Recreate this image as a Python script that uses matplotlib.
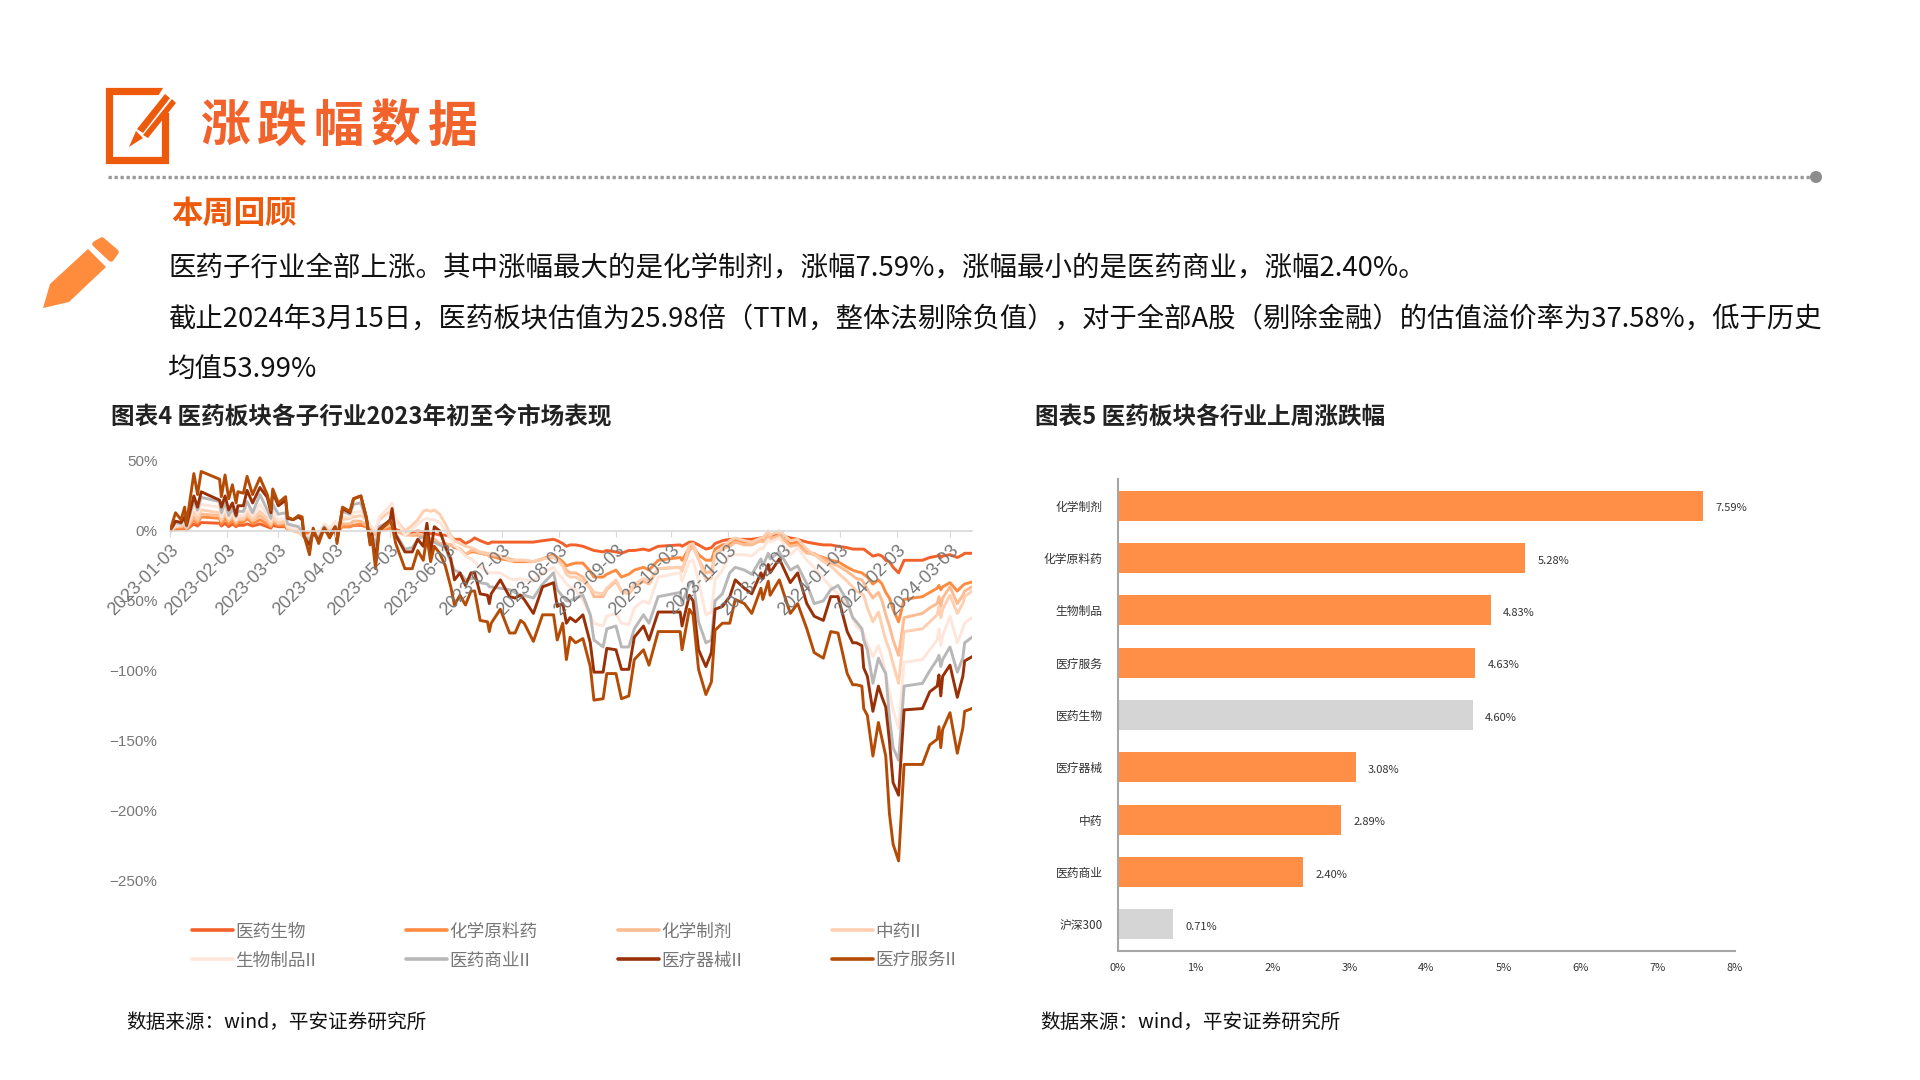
import pandas as pd
from matplotlib import pyplot as plt
from matplotlib.patches import Polygon, Circle, Rectangle
from matplotlib.ticker import FuncFormatter

plt.rcParams['font.family'] = ['Noto Sans CJK SC', 'DejaVu Sans']

title_chars = '涨跌幅数据'
review_title = '本周回顾'
body_lines = ['医药子行业全部上涨。其中涨幅最大的是化学制剂，涨幅7.59%，涨幅最小的是医药商业，涨幅2.40%。',
              '截止2024年3月15日，医药板块估值为25.98倍（TTM，整体法剔除负值），对于全部A股（剔除金融）的估值溢价率为37.58%，低于历史',
              '均值53.99%']
chart4_title = '图表4 医药板块各子行业2023年初至今市场表现'
chart5_title = '图表5 医药板块各行业上周涨跌幅'
source_text = '数据来源：wind，平安证券研究所'

# left chart
dates = ['2023-01-03', '2023-01-06', '2023-01-09', '2023-01-11', '2023-01-12', '2023-01-16', '2023-01-18', '2023-01-20', '2023-01-30', '2023-01-31',
         '2023-02-02', '2023-02-04', '2023-02-06', '2023-02-08', '2023-02-09', '2023-02-12', '2023-02-14', '2023-02-17', '2023-02-21', '2023-02-25',
         '2023-02-27', '2023-02-28', '2023-03-03', '2023-03-07', '2023-03-08', '2023-03-11', '2023-03-14', '2023-03-16', '2023-03-17', '2023-03-20',
         '2023-03-22', '2023-03-25', '2023-03-28', '2023-03-31', '2023-04-03', '2023-04-04', '2023-04-07', '2023-04-11', '2023-04-13', '2023-04-17',
         '2023-04-20', '2023-04-22', '2023-04-23', '2023-04-25', '2023-04-27', '2023-05-03', '2023-05-04', '2023-05-06', '2023-05-11', '2023-05-15',
         '2023-05-18', '2023-05-21', '2023-05-23', '2023-05-25', '2023-05-27', '2023-05-30', '2023-06-02', '2023-06-05', '2023-06-07', '2023-06-10',
         '2023-06-13', '2023-06-16', '2023-06-18', '2023-06-21', '2023-06-25', '2023-06-26', '2023-06-27', '2023-07-02', '2023-07-07', '2023-07-10',
         '2023-07-13', '2023-07-15', '2023-07-20', '2023-07-25', '2023-07-31', '2023-08-02', '2023-08-05', '2023-08-07', '2023-08-09', '2023-08-12',
         '2023-08-16', '2023-08-20', '2023-08-22', '2023-08-27', '2023-08-29', '2023-09-03', '2023-09-06', '2023-09-10', '2023-09-13', '2023-09-18',
         '2023-09-21', '2023-09-26', '2023-10-08', '2023-10-09', '2023-10-13', '2023-10-15', '2023-10-18', '2023-10-22', '2023-10-25', '2023-10-27',
         '2023-10-31', '2023-11-04', '2023-11-07', '2023-11-12', '2023-11-16', '2023-11-21', '2023-11-22', '2023-11-25', '2023-11-26', '2023-12-01',
         '2023-12-07', '2023-12-11', '2023-12-16', '2023-12-20', '2023-12-25', '2023-12-29', '2024-01-02', '2024-01-07', '2024-01-10', '2024-01-12',
         '2024-01-15', '2024-01-16', '2024-01-18', '2024-01-21', '2024-01-24', '2024-01-26', '2024-01-28', '2024-01-30', '2024-02-01', '2024-02-04',
         '2024-02-07', '2024-02-17', '2024-02-21', '2024-02-25', '2024-02-26', '2024-02-27', '2024-02-28', '2024-03-03', '2024-03-07', '2024-03-10',
         '2024-03-11', '2024-03-15']

yiyao = [0, 1, 1.5, 2, 1, 5, 3.5, 6, 5.5, 3.5,
         5.5, 3, 5, 3, 4, 4, 5, 3.5, 5, 3,
         2, 4, 3, 3, 1, 1, .5, -1, -1, -2,
         -1, -1, 0, 0, 1, 0, 3, 3, 4, 4,
         3, 1, 1, 0, 1, 2, 2, 1, -1, -1,
         0, -1, -1, -2, -2, -3, -3, -4, -6, -6,
         -9, -7, -5, -7, -9, -9, -8, -8, -8, -8,
         -8, -8, -8, -7, -6, -7, -9, -11, -10, -10,
         -11, -13, -14, -15, -14, -15, -16, -14, -14, -13,
         -14, -11, -10, -11, -8, -8, -10, -13, -12, -9,
         -7, -6, -6, -6, -6, -5, -5, -3, -3, -3,
         -5, -6, -8, -9, -10, -10, -11, -12, -13, -13,
         -13, -13, -15, -18, -17, -18, -21, -22, -26, -30,
         -21, -21, -19, -18, -17, -19, -18, -17, -19, -17, -16, -16]
yuanliao = [0, 2, 2, 3, 1, 8, 5.5, 10, 9, 5,
            9, 5, 8, 4, 6, 6, 9, 5, 8, 5,
            3, 6, 4, 4, 1, 1, 0, -2, -2, -3,
            -1, -3, 0, -1, 1, -1, 3, 3, 4, 5,
            3, -1, 0, -2, 0, 2, 2, 0, -2, -3,
            -3, -4, -4, -6, -7, -10, -10, -10, -12, -13,
            -17, -15, -15, -16, -17, -18, -18, -20, -21, -22,
            -22, -22, -22, -20, -17, -19, -22, -25, -24, -23,
            -23, -29, -33, -33, -31, -28, -33, -31, -28, -26,
            -28, -21, -19, -21, -12, -11, -17, -21, -21, -13,
            -10, -9, -8, -8, -8, -7, -7, -4, -6, -4,
            -9, -8, -15, -17, -19, -21, -22, -26, -28, -29,
            -30, -31, -33, -38, -35, -38, -44, -48, -56, -65,
            -49, -47, -44, -41, -39, -42, -40, -37, -43, -39, -38, -36.5]
zhiji = [0, 3, 3, 4, 2, 10, 7, 12, 11, 7,
         12, 7, 10, 6, 8, 8, 11, 7, 11, 7,
         4, 8, 5, 6, 2, 0, -1, -3, -4, -4,
         -1, -3, 1, 0, 2, 0, 5, 5, 7, 7,
         4, -1, 0, -3, 1, 4, 4, 0, -3, -3,
         -2, -4, -3, -6, -6, -9, -9, -10, -11, -13,
         -17, -14, -14, -16, -17, -18, -17, -18, -20, -21,
         -21, -21, -22, -20, -18, -20, -24, -28, -30, -30,
         -33, -41, -47, -47, -42, -36, -43, -45, -40, -36,
         -38, -27, -26, -28, -14, -11, -20, -30, -29, -17,
         -13, -11, -8, -10, -10, -7, -8, -3, -6, -3,
         -11, -10, -16, -16, -20, -23, -25, -29, -32, -34,
         -35, -37, -42, -48, -44, -50, -60, -68, -78, -89,
         -62, -59, -55, -52, -47, -54, -48, -40, -52, -46, -43, -40]
zhongyao = [0, 3, 4, 5, 2, 14, 9, 15, 13, 8,
            14, 8, 12, 7, 9, 9, 13, 8, 14, 9,
            5, 10, 6, 7, 2, 1, 0, -3, -4, -3,
            0, -2, 4, 2, 6, 3, 8, 9, 10, 11,
            8, 3, 2, 0, 8, 14, 13, 8, 0, 4,
            8, 14, 15, 14, 15, 12, 5, -3, -7, -9,
            -11, -12, -13, -15, -16, -16, -16, -18, -21, -21,
            -21, -21, -22, -20, -19, -21, -25, -31, -33, -33,
            -36, -40, -44, -45, -41, -35, -43, -44, -38, -34,
            -36, -27, -26, -29, -10, -9, -20, -35, -34, -16,
            -12, -7, -5, -7, -8, -5, -5, 0, -3, 0,
            -7, -6, -13, -17, -22, -25, -30, -36, -40, -43,
            -45, -46, -55, -65, -58, -68, -78, -85, -95, -109,
            -72, -70, -65, -60, -54, -62, -56, -46, -59, -52, -47, -43]
shengwu = [0, 4, 5, 7, 3, 17, 12, 19, 17, 10,
           16, 9, 14, 8, 11, 11, 16, 11, 19, 12,
           7, 14, 8, 9, 3, 2, 1, -2, -4, -4,
           0, -3, 5, 2, 7, 3, 10, 10, 13, 14,
           9, 4, 3, 0, 10, 18, 20, 8, -3, 1,
           5, 8, 9, 8, 8, 6, 0, -5, -10, -14,
           -18, -20, -22, -26, -29, -30, -30, -30, -34, -35,
           -34, -35, -36, -30, -26, -30, -34, -38, -40, -42,
           -50, -60, -66, -68, -61, -59, -66, -67, -55, -50,
           -52, -33, -30, -36, -22, -21, -36, -60, -58, -35,
           -28, -17, -17, -17, -18, -12, -13, -6, -8, -5,
           -17, -12, -21, -26, -34, -40, -45, -53, -62, -68,
           -72, -73, -81, -90, -82, -90, -103, -115, -128, -141,
           -94, -92, -85, -78, -70, -82, -75, -61, -80, -70, -66, -62]
shangye = [0, 6, 5, 9, 3, 22, 15, 24, 21, 13,
           21, 11, 16, 10, 14, 14, 21, 13, 26, 15,
           9, 19, 12, 13, 5, 4, 3, -1, -4, -6,
           -1, -5, 3, -2, 3, -4, 14, 12, 19, 20,
           8, -5, -2, -10, 3, 7, 9, -2, -13, -12,
           -6, -4, -2, -7, -8, -10, -12, -22, -28, -30,
           -35, -34, -34, -37, -38, -40, -40, -41, -42, -44,
           -46, -46, -48, -38, -30, -42, -47, -50, -50, -48,
           -46, -60, -78, -83, -70, -68, -83, -83, -70, -60,
           -66, -47, -44, -52, -38, -36, -65, -80, -78, -50,
           -45, -30, -26, -28, -31, -20, -25, -16, -20, -15,
           -28, -25, -38, -52, -50, -42, -39, -50, -62, -65,
           -70, -78, -85, -109, -91, -97, -102, -133, -155, -164,
           -111, -109, -100, -92, -89, -97, -92, -83, -101, -91, -80, -76]
qixie = [0, 7, 6, 10, 4, 25, 17, 28, 22, 17,
         25, 15, 20, 11, 18, 18, 29, 20, 31, 24,
         13, 28, 18, 22, 9, 8, 10, 8, -4, -10,
         -1, -7, 2, -4, 3, -7, 16, 13, 23, 25,
         9, -8, -2, -21, 1, 8, 16, -3, -15, -15,
         -6, -11, 5.5, -16, 3, 0, -11, -20, -35, -30,
         -39, -30, -30, -45, -46, -52, -45, -35, -47, -48,
         -46, -49, -59, -40, -37, -54, -52, -66, -62, -65,
         -60, -80, -101, -101, -84, -85, -99, -99, -76, -68,
         -78, -58, -58, -68, -46, -50, -85, -97, -87, -56,
         -54, -47, -35, -41, -45, -30, -34, -24, -30, -20,
         -37, -30, -52, -61, -64, -47, -47, -72, -80, -80,
         -82, -98, -104, -129, -111, -119, -126, -150, -180, -189,
         -128, -127, -115, -111, -103, -118, -104, -96, -119, -104, -93, -90]
fuwu = [0, 13, 8, 17, 5, 41, 26, 42.5, 37, 24.5,
        40, 23, 33, 20, 28, 27, 39, 26, 38, 26,
        15, 30, 20, 24.5, 10, 8, 11, 10, -3, -17,
        2, -9, 2, -5, 2.5, -9, 17, 14, 23, 25,
        10, -10, -4, -27, 0, 7, 4, -9, -27, -27,
        -14, -21, -4, -22, -11, -16, -25, -40, -53, -46,
        -53, -43, -43, -64, -65, -72, -66, -56, -73, -73,
        -64, -66, -79, -60, -60, -78, -66, -92, -76, -80,
        -77, -97, -121, -120, -102, -102, -120, -118, -92, -85,
        -96, -72, -72, -85, -56, -60, -99, -117, -108, -71,
        -66, -66, -49, -52, -59, -41, -49, -36, -46, -35,
        -59, -52, -70, -87, -91, -72, -73, -102, -110, -110,
        -111, -127, -132, -161, -137, -149, -161, -202, -224, -236,
        -167, -167, -153, -149, -140, -155, -142, -130, -159, -141, -129, -127]

series_names = ['医药生物', '化学原料药', '化学制剂', '中药II', '生物制品II', '医药商业II', '医疗器械II', '医疗服务II']
series_values = [yiyao, yuanliao, zhiji, zhongyao, shengwu, shangye, qixie, fuwu]
series_colors = ['#F4602A', '#FF8B40', '#FFBB90', '#FFCFB0', '#FFE6DA', '#B8B8B8', '#993008', '#B54C05']
date_ticks = ['2023-01-03', '2023-02-03', '2023-03-03', '2023-04-03', '2023-05-03', '2023-06-03', '2023-07-03',
              '2023-08-03', '2023-09-03', '2023-10-03', '2023-11-03', '2023-12-03', '2024-01-03', '2024-02-03', '2024-03-03']
pct_ticks = [50, 0, -50, -100, -150, -200, -250]

# right chart
bar_names = ['化学制剂', '化学原料药', '生物制品', '医疗服务', '医药生物', '医疗器械', '中药', '医药商业', '沪深300']
bar_values = [7.59, 5.28, 4.83, 4.63, 4.60, 3.08, 2.89, 2.40, 0.71]
bar_colors = ['#FF8F47', '#FF8F47', '#FF8F47', '#FF8F47', '#D5D5D5', '#FF8F47', '#FF8F47', '#FF8F47', '#D5D5D5']

W, H = 1920, 1080
fig = plt.figure(figsize=(19.2, 10.8), dpi=100, facecolor='white')


def px_axes(left, top, right, bottom):
    return fig.add_axes([left / W, 1 - bottom / H, (right - left) / W, (bottom - top) / H])


# page furniture is drawn in pixel coordinates
page = fig.add_axes([0, 0, 1, 1])
page.set_xlim(0, W)
page.set_ylim(H, 0)
page.axis('off')

orange = '#EE5A0C'
page.add_patch(Rectangle((108.5, 90.5), 56, 69, fill=False, ec=orange, lw=5.2))
page.add_patch(Polygon([(165, 85), (185, 85), (185, 108), (168.5, 113), (161, 113), (158, 96)], fc='white', ec='none'))
page.add_patch(Polygon([(137, 129), (165, 94), (170, 98), (143, 133)], fc=orange, ec='none'))
page.add_patch(Polygon([(143, 135), (172, 99), (176, 103), (148, 138)], fc=orange, ec='none'))
page.add_patch(Polygon([(129, 147), (136, 131), (143, 138)], fc=orange, ec='none'))

for i, ch in enumerate(title_chars):
    page.text(225 + i * 57, 127, ch, fontsize=36, fontweight='bold', color='#F2622B', ha='center', va='center')

page.plot([108, 1812], [177, 177], color='#999999', lw=2.4, ls=(0, (1, 0.8)))
page.add_patch(Circle((1816, 177), 6, fc='#8C8C8C', ec='none'))

page.text(171, 214, review_title, fontsize=22.6, fontweight='bold', color=orange, va='center')
for text, y, size in zip(body_lines, [268.5, 319.5, 369.5], [19.8, 19.7, 19.8]):
    page.text(168, y, text, fontsize=size, color='#111111', va='center')

pencil = '#FF8B3D'
page.add_patch(Polygon([(50, 284), (88, 249), (106, 267), (69, 302), (43, 308)], fc=pencil, ec='none'))
page.add_patch(Polygon([(95, 244), (102, 240), (116, 252), (111, 259)], fc=pencil, ec=pencil, lw=4, joinstyle='round'))

page.text(111, 417, chart4_title, fontsize=17, fontweight='bold', color='#222222', va='center')
page.text(1035, 417, chart5_title, fontsize=17, fontweight='bold', color='#222222', va='center')
page.text(126, 1022, source_text, fontsize=14.1, color='#111111', va='center')
page.text(1040, 1022, source_text, fontsize=14.1, color='#111111', va='center')

# 图表4
ax = px_axes(170, 461, 972, 880.5)
ax.patch.set_alpha(0)
x = pd.to_datetime(dates)
for name, vals, c in zip(series_names, series_values, series_colors):
    ax.plot(x, vals, color=c, lw=2.1, label=name)
ax.set_xlim(pd.Timestamp('2023-01-03'), pd.Timestamp('2024-03-15'))
ax.set_ylim(-250, 50)
ax.set_yticks(pct_ticks)
ax.yaxis.set_major_formatter(FuncFormatter(lambda v, _: f'{v:.0f}%'.replace('-', '\u2212')))
ax.set_xticks(pd.to_datetime(date_ticks))
ax.set_xticklabels(date_ticks)
ax.set_axisbelow(False)  # date labels sit on top of the lines
for s in ['top', 'right', 'left']:
    ax.spines[s].set_visible(False)
ax.spines['bottom'].set_position(('data', 0))
ax.spines['bottom'].set_color('#D9D9D9')
ax.spines['bottom'].set_linewidth(1.2)
ax.tick_params(axis='x', length=4, color='#D9D9D9', labelcolor='#777777', pad=4, labelrotation=45)
ax.tick_params(axis='y', length=0, labelcolor='#777777', pad=9)
for lab in ax.get_xticklabels():
    lab.set_ha('right')
    lab.set_va('top')
    lab.set_rotation_mode('anchor')
    lab.set_fontfamily(['Liberation Sans'])
    lab.set_fontsize(13)
for lab in ax.get_yticklabels():
    lab.set_fontfamily(['Liberation Sans'])
    lab.set_fontsize(11)

# legend is laid out on fixed columns, as in the original
legend_cols = [192, 406, 618, 832]
legend_rows = [930, 959]
for i, (name, c) in enumerate(zip(series_names, series_colors)):
    lx = legend_cols[i % 4]
    ly = legend_rows[i // 4]
    page.plot([lx, lx + 41], [ly, ly], color=c, lw=2.6, solid_capstyle='round')
    page.text(lx + 43, ly + 2, name, fontsize=12.7, color='#777777', va='center')

# 图表5
ax2 = px_axes(1118, 479.5, 1735, 950.5)
ax2.patch.set_alpha(0)
ypos = list(range(len(bar_names)))
ax2.barh(ypos, bar_values, height=0.57, color=bar_colors)
ax2.set_yticks(ypos)
ax2.set_yticklabels(bar_names)
ax2.set_ylim(len(bar_names) - 0.5, -0.5)
ax2.set_xlim(0, 8)
ax2.set_xticks(range(9))
ax2.xaxis.set_major_formatter(FuncFormatter(lambda v, _: f'{v:.0f}%'))
for s in ['top', 'right']:
    ax2.spines[s].set_visible(False)
for s in ['left', 'bottom']:
    ax2.spines[s].set_color('#A6A6A6')
    ax2.spines[s].set_linewidth(1.5)
ax2.tick_params(axis='y', length=0, pad=11, labelsize=8.5, labelcolor='#333333')
ax2.tick_params(axis='x', length=0, pad=9, labelsize=8, labelcolor='#333333')
for yy, v in zip(ypos, bar_values):
    ax2.annotate(f'{v:.2f}%', (v, yy), xytext=(9, -2), textcoords='offset points', fontsize=8, color='#333333', va='center')

plt.savefig('out.png', dpi=100)
